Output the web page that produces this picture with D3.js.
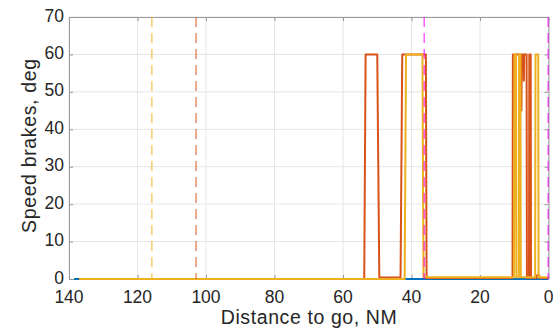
<!DOCTYPE html>
<html>
<head>
<meta charset="utf-8">
<script src="https://cdn.jsdelivr.net/npm/d3@7"></script>
<style>
  html, body { margin: 0; padding: 0; background: #fff; }
  svg { display: block; font-family: "Liberation Sans", Arial, Helvetica, sans-serif; }
</style>
</head>
<body>
<svg id="chart" width="553" height="330"></svg>
<script>
// Speed brake deflection versus distance to go, three runs plus event markers.
const xTicks = [140, 120, 100, 80, 60, 40, 20, 0];
const yTicks = [0, 10, 20, 30, 40, 50, 60, 70];

// [distance to go (NM), speed brake (deg)]
const seriesBlue = [[138.5, 0], [0.2, 0]];
const seriesRed = [
  [137, 0], [53.8, 0], [53.4, 60], [50.0, 60], [49.4, 0.4], [43.2, 0.4],
  [42.7, 60], [35.8, 60], [35.6, 0.3], [10.5, 0.3], [10.4, 60], [8.0, 60],
  [7.9, 45], [7.8, 60], [7.3, 60], [7.2, 53], [7.1, 60], [6.4, 60],
  [6.3, 0.3], [5.7, 0.3], [5.6, 60], [5.2, 60], [5.1, 0.3], [3.5, 0.3],
  [3.4, 1.0], [2.7, 1.0], [2.6, 0.3], [0.2, 0.3]
];
const seriesYellow = [
  [137, 0], [42.0, 0], [41.6, 60], [36.8, 60], [36.5, 0.5], [10.1, 0.5],
  [9.9, 60], [9.5, 60], [9.4, 0.5], [8.7, 0.5], [8.6, 60], [8.2, 60],
  [8.1, 0.5], [3.9, 0.5], [3.8, 60], [3.0, 60], [2.9, 0.5], [0.2, 0.5]
];
// Vertical event markers (distance to go, NM)
const markerDist = [115.8, 102.9, 36.3, 0.1];
const markerColor = ["#EDB120", "#D95319", "#FF00FF", "#FF00FF"];

const svg = d3.select("#chart");
const margin = { left: 69, right: 4.5, top: 17, bottom: 51 };
const W = 553, H = 330;
const x = d3.scaleLinear().domain([140, 0]).range([margin.left, W - margin.right]);
const y = d3.scaleLinear().domain([0, 70]).range([H - margin.bottom, margin.top]);

// grid
svg.append("g").selectAll("line").data(xTicks).join("line")
  .attr("x1", d => x(d)).attr("x2", d => x(d))
  .attr("y1", y(0)).attr("y2", y(70))
  .attr("stroke", "#e6e6e6").attr("stroke-width", 1);
svg.append("g").selectAll("line").data(yTicks).join("line")
  .attr("y1", d => y(d)).attr("y2", d => y(d))
  .attr("x1", x(140)).attr("x2", x(0))
  .attr("stroke", "#e6e6e6").attr("stroke-width", 1);

// axes box with inward ticks
const axisColor = "#9a9a9a";
const xb = d3.axisBottom(x).tickValues(xTicks).tickSizeInner(-4).tickSizeOuter(0).tickFormat("");
const xt = d3.axisTop(x).tickValues(xTicks).tickSizeInner(-4).tickSizeOuter(0).tickFormat("");
const yl = d3.axisLeft(y).tickValues(yTicks).tickSizeInner(-4).tickSizeOuter(0).tickFormat("");
const yr = d3.axisRight(y).tickValues(yTicks).tickSizeInner(-4).tickSizeOuter(0).tickFormat("");
[[xb, `translate(0,${y(0)})`], [xt, `translate(0,${y(70)})`],
 [yl, `translate(${x(140)},0)`], [yr, `translate(${x(0)},0)`]].forEach(([ax, tr]) => {
  const g = svg.append("g").attr("transform", tr).call(ax);
  g.selectAll("path, line").attr("stroke", axisColor);
});

// tick labels
svg.append("g").selectAll("text").data(xTicks).join("text")
  .attr("x", d => x(d)).attr("y", y(0) + 24)
  .attr("text-anchor", "middle").attr("font-size", 17.5).attr("fill", "#262626")
  .text(d => d);
svg.append("g").selectAll("text").data(yTicks).join("text")
  .attr("x", x(140) - 5).attr("y", d => y(d) + 4.5)
  .attr("text-anchor", "end").attr("font-size", 17.5).attr("fill", "#262626")
  .text(d => d);

// axis titles
svg.append("text")
  .attr("x", (x(140) + x(0)) / 2).attr("y", 324)
  .attr("text-anchor", "middle").attr("font-size", 19.5).attr("fill", "#262626")
  .attr("textLength", 176).attr("lengthAdjust", "spacing")
  .text("Distance to go, NM");
svg.append("text")
  .attr("transform", `translate(35.5,${(y(0) + y(70)) / 2 - 2}) rotate(-90)`)
  .attr("text-anchor", "middle").attr("font-size", 19.5).attr("fill", "#262626")
  .attr("textLength", 174).attr("lengthAdjust", "spacing")
  .text("Speed brakes, deg");

// series
const line = d3.line().x(d => x(d[0])).y(d => y(d[1]));
const plot = svg.append("g");
[[seriesBlue, "#0072BD"], [seriesRed, "#D95319"], [seriesYellow, "#EDB120"]].forEach(([data, c]) => {
  plot.append("path").datum(data).attr("d", line)
    .attr("fill", "none").attr("stroke", c).attr("stroke-width", 2)
    .attr("stroke-linejoin", "round");
});

// event markers
plot.selectAll(".marker").data(markerDist).join("line")
  .attr("class", "marker")
  .attr("x1", d => x(d)).attr("x2", d => x(d))
  .attr("y1", y(70)).attr("y2", y(0))
  .attr("stroke", (d, i) => markerColor[i]).attr("stroke-opacity", 0.8)
  .attr("stroke-width", 1.2).attr("stroke-dasharray", "10,6");
</script>
</body>
</html>
